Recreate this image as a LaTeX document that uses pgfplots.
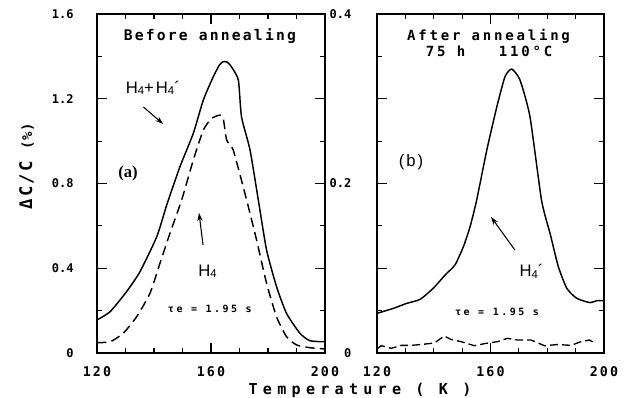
\documentclass[border=0pt]{standalone}
\usepackage{pgfplots}
\pgfplotsset{compat=1.18}
\usepackage{fontspec}
\setmainfont{Liberation Sans}
\newfontfamily\mono{DejaVu Sans Mono}
\newfontfamily\serifb{Liberation Serif}
\newcommand\mf[2]{\mono\bfseries\fontsize{#1}{#1}\selectfont\addfontfeature{LetterSpace=#2}}
\newcommand\hf[1]{\fontsize{#1}{#1}\selectfont\addfontfeature{LetterSpace=12}}
\newcommand\sub[1]{\raisebox{-1.2pt}{\fontsize{8.5}{8.5}\selectfont #1}}
\usetikzlibrary{arrows.meta}
\pgfplotstableread{
T v
120 0.156
124.6 0.195
130.4 0.29
135.1 0.384
141 0.55
144.5 0.70
149.1 0.879
153.8 1.037
157.3 1.194
160.8 1.304
163 1.36
164.3 1.375
165.8 1.372
167.2 1.35
169.6 1.288
170.7 1.115
173.7 0.958
176.6 0.722
179.5 0.486
183 0.313
186.5 0.187
191.2 0.093
194.7 0.058
200 0.053
}\leftsolid
\pgfplotstableread{
T v
120 0.049
124.6 0.053
129.2 0.093
133.9 0.171
138.6 0.282
142.1 0.424
145.6 0.565
149.7 0.722
153.8 0.911
157.3 1.052
160.2 1.107
163.2 1.123
164.3 1.107
165.5 1.005
167.8 0.958
172.5 0.722
176 0.533
179.5 0.329
183 0.171
186.5 0.077
190 0.038
194.7 0.025
200 0.019
}\leftdashed
\pgfplotstableread{
T v
120 0.0468
125.8 0.0527
130.5 0.0586
135.2 0.0633
139.8 0.0763
144 0.092
147.5 0.104
150.4 0.125
152.8 0.149
155.1 0.18
158.7 0.2395
162.2 0.29
165.1 0.326
167.5 0.335
170.4 0.322
173.9 0.279
178 0.18
181 0.141
183.9 0.102
186.9 0.0763
190.4 0.0645
195.1 0.0594
197.4 0.0617
200 0.0617
}\rightsolid
\pgfplotstableread{
T v
120.3 0.0055
121.5 0.0086
125 0.0055
128.5 0.009
132 0.009
135.5 0.010
140.2 0.0118
143.7 0.020
146.1 0.016
149.6 0.0134
154.3 0.0086
157.8 0.011
162.5 0.0134
166 0.0173
169.6 0.0153
174.3 0.0153
179 0.0086
183.7 0.010
188.4 0.009
191.9 0.0134
194.9 0.0153
196.6 0.0118
}\rightdashed
\begin{document}
\begin{tikzpicture}
\path[use as bounding box] (0,0) rectangle (472.5pt,298.5pt);
\pgfplotsset{
  panel/.style={
    scale only axis, anchor=south west, height=254.25pt,
    xmin=120, xmax=200,
    xtick={120,160,200}, xticklabels={120,160,200},
    minor xtick={130,140,150,170,180,190},
    tick align=inside, major tick length=7.5pt, minor tick length=3.5pt,
    axis line style={line width=1.1pt},
    every tick/.style={black, line width=0.9pt},
    every minor tick/.style={black, line width=0.9pt},
    xticklabel style={font=\mf{10}{15}, yshift=-7pt},
    yticklabel style={font=\mf{9}{0}},
    clip=false,
  },
  curve/.style={black, line width=1.1pt, smooth, tension=0.35},
}
\begin{axis}[panel, at={(72.75pt,33.75pt)}, width=171pt,
  ymin=0, ymax=1.6,
  ytick={0,0.4,0.8,1.2,1.6}, yticklabels={0,0.4,0.8,1.2,1.6},
  minor ytick={0.2,0.6,1.0,1.4},
  yticklabel style={xshift=-14pt}]
\addplot[curve] table[x=T,y=v] {\leftsolid};
\addplot[curve, dash pattern=on 7pt off 4pt] table[x=T,y=v] {\leftdashed};
\node[anchor=base, font=\mf{11}{15}] at (axis cs:159.6,1.477) {Before annealing};
\node[anchor=base, font=\hf{12.5}] at (axis cs:139.6,1.2256) {H\sub{4}+H\sub{4}´};
\draw[line width=0.8pt, -{Stealth[length=6pt,width=4pt]}] (axis cs:136.3,1.161) -- (axis cs:143.2,1.081);
\node[anchor=base, font=\serifb\bfseries\fontsize{12.5}{12.5}\selectfont] at (axis cs:130.9,0.826) {(a)};
\draw[line width=0.8pt, -{Stealth[length=6pt,width=4pt]}] (axis cs:157.2,0.51) -- (axis cs:155.8,0.661);
\node[anchor=base, font=\hf{12.5}] at (axis cs:158.8,0.363) {H\sub{4}};
\node[anchor=base, font=\mf{7.5}{25}] at (axis cs:159.6,0.189) {τe = 1.95 s};
\end{axis}
\begin{axis}[panel, at={(282.75pt,33.75pt)}, width=170.25pt,
  ymin=0, ymax=0.4,
  ytick={0,0.1,0.2,0.3,0.4}, yticklabels={0,,0.2,,0.4},
  minor ytick={0.05,0.15,0.25,0.35},
  yticklabel style={xshift=-15.75pt}]
\addplot[curve] table[x=T,y=v] {\rightsolid};
\addplot[black, line width=1.0pt, dash pattern=on 6pt off 3pt] table[x=T,y=v] {\rightdashed};
\node[anchor=base, font=\mf{10.5}{20}] at (axis cs:159.3,0.3693) {After annealing};
\node[anchor=base, font=\mf{10.5}{20}] at (axis cs:159.5,0.3504) {75 h~~~110°C};
\node[anchor=base, font=\hf{12.5}] at (axis cs:132,0.2198) {(b)};
\draw[line width=0.8pt, -{Stealth[length=6pt,width=4pt]}] (axis cs:168.6,0.1215) -- (axis cs:160.2,0.1605);
\node[anchor=base west, font=\hf{12.5}] at (axis cs:168.6,0.09) {H\sub{4}´};
\node[anchor=base, font=\mf{7.5}{25}] at (axis cs:162.3,0.0448) {τe = 1.95 s};
\end{axis}
\node[anchor=base, rotate=90] at (24pt,174pt) {\mf{13}{12}ΔC/C\hspace{9pt}\mf{10.5}{5}(\%)};
\node[anchor=base, font=\mf{11.3}{35}] at (270pt,2.25pt) {Temperature ( K )};
\end{tikzpicture}
\end{document}
